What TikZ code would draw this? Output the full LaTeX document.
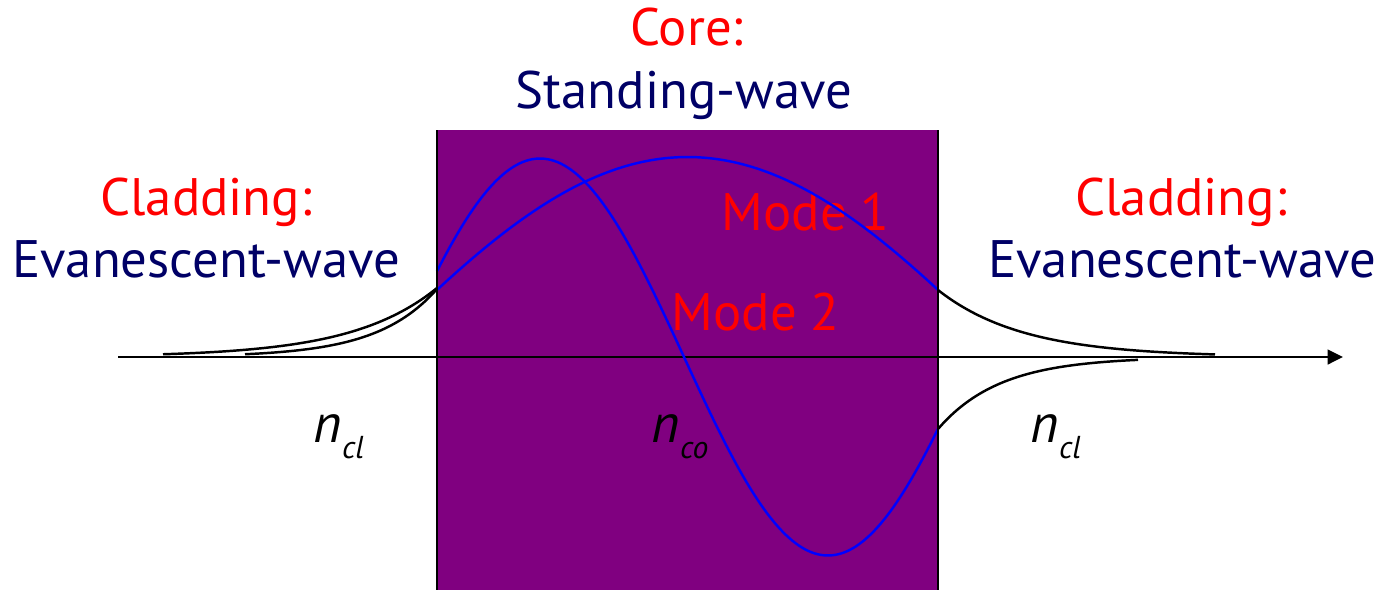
\documentclass[tikz,border=0pt]{standalone}
\usepackage{fontspec}
\setmainfont{PT Sans}
\definecolor{LabelRed}{HTML}{FF0000}
\definecolor{WaveNavy}{HTML}{000066}
\definecolor{CorePurple}{HTML}{800080}
\definecolor{ModeBlue}{HTML}{0000FF}
\usepackage{tikz}
\usetikzlibrary{positioning, arrows.meta}
\usepackage{xcolor}

\tikzset{
  region/.style={font=\fontsize{15}{18}\selectfont, text=LabelRed, anchor=base, inner sep=0pt},
  wavetype/.style={font=\fontsize{15}{18}\selectfont, text=WaveNavy, anchor=base, inner sep=0pt},
  modelabel/.style={font=\fontsize{15}{18}\selectfont, text=LabelRed, anchor=base west, inner sep=0pt},
  index/.style={font=\fontsize{15.5}{18}\selectfont\itshape, anchor=base west, inner sep=0pt},
  mode/.style={ModeBlue, line width=0.7pt, smooth},
  tail/.style={black, line width=0.7pt, smooth},
}

\begin{document}
\begin{tikzpicture}[x=0.01cm, y=-0.01cm]
  \useasboundingbox (0,0) rectangle (1381,590);

  % core slab
  \coordinate (coreTL) at (437,130);
  \coordinate (coreBL) at (437,590);
  \coordinate (coreTR) at (938,130);
  \coordinate (coreBR) at (938,590);
  \fill[CorePurple] (coreTL) rectangle (coreBR);

  % labels
  \node[region]   (coreName)  at (687,45)  {Core:};
  \node[wavetype] (coreWave)  at (684,108) {Standing-wave};
  \node[region]   (cladLName) at (206,215) {Cladding:};
  \node[wavetype] (cladLWave) at (206,277) {Evanescent-wave};
  \node[region]   (cladRName) at (1181,215) {Cladding:};
  \node[wavetype] (cladRWave) at (1182,277) {Evanescent-wave};
  \node[modelabel] (modeOne) at (721,230) {Mode 1};
  \node[modelabel] (modeTwo) at (671,330) {Mode 2};
  \node[index] (nclL) at (313,442) {n\raisebox{-0.6ex}{\small cl}};
  \node[index] (nco)  at (651,442) {n\raisebox{-0.6ex}{\small co}};
  \node[index] (nclR) at (1030,442) {n\raisebox{-0.6ex}{\small cl}};

  % axis
  \coordinate (axisL) at (118,357);
  \coordinate (axisR) at (1343,357);
  \draw[line width=0.7pt, -{Triangle[length=4.4pt, width=4.2pt]}] (axisL) -- (axisR);

  % fields inside the core
  \draw[mode] plot[domain=437:938, samples=80] (\x, {357-200*cos(0.281*(\x-687.5))});
  \draw[mode] plot[domain=437:938, samples=80] (\x, {357+198.5*sin(0.625*(\x-684))});

  % evanescent tails
  \draw[tail] plot[domain=245:437, samples=40] (\x, {357-68*exp((\x-437)/60)});
  \draw[tail] plot[domain=163:437, samples=50] (\x, {357-69*exp((\x-437)/85)});
  \draw[tail] plot[domain=938:1215, samples=50] (\x, {357-67*exp(-(\x-938)/85)});
  \draw[tail] plot[domain=938:1138, samples=40] (\x, {357+72*exp(-(\x-938)/62)});

  % core boundaries
  \draw[line width=0.8pt] (coreTL) -- (coreBL);
  \draw[line width=0.8pt] (coreTR) -- (coreBR);
\end{tikzpicture}
\end{document}
